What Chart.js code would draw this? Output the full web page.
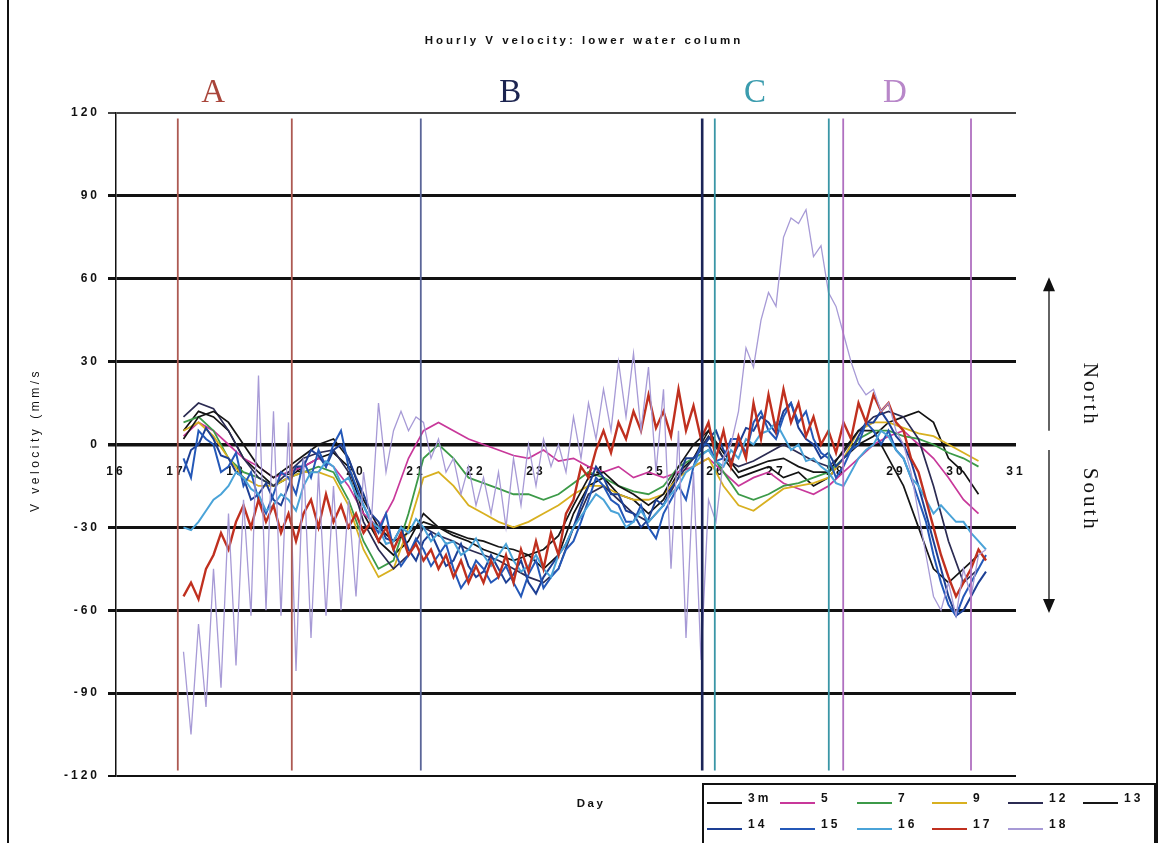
<!DOCTYPE html>
<html>
<head>
<meta charset="utf-8">
<title>Hourly V velocity: lower water column</title>
<script src="https://cdn.jsdelivr.net/npm/chart.js@4/dist/chart.umd.min.js"></script>
<style>
  html, body { margin: 0; padding: 0; background: #ffffff; }
  canvas { display: block; }
</style>
</head>
<body>
<canvas id="chart" width="1160" height="843"></canvas>
<script>
// ---- Text ----
const TITLE = 'Hourly V velocity: lower water column';
const Y_TITLE = 'V velocity (mm/s';
const X_TITLE = 'Day';

// ---- Axes ----
const DAY_MIN = 16, DAY_MAX = 31, DAY_STEP = 1;
const VEL_MIN = -120, VEL_MAX = 120, VEL_STEP = 30;

// ---- Sampling grids (days) ----
const START_DAY = 17.125;
const STEP_6H = 0.25;
const STEP_3H = 0.125;

// ---- Depth series (mm/s) ----
const DEPTHS = ['3m', '5', '7', '9', '12', '13', '14', '15', '16', '17', '18'];
const COLORS = ['#121212', '#c8389a', '#3c9a48', '#d8b020', '#2b2b52', '#161616',
                '#1d3f94', '#2458b8', '#4aa3d8', '#c0301f', '#a79ad6'];

// 6-hourly
const v3m = [5,12,10,5,-5,-10,-15,-12,-8,-5,-3,-8,-25,-35,-40,-35,-25,-30,-33,-35,-38,-40,-42,-40,-45,-40,-25,-15,-12,-18,-20,-25,-20,-10,-5,5,-5,-12,-10,-8,-12,-10,-15,-12,-5,0,3,8,10,12,8,-5,-10,-18];
const v5  = [3,8,5,0,-5,-8,-12,-10,-8,-5,-8,-15,-25,-30,-20,-5,5,8,5,2,0,-2,-4,-5,-2,-6,-5,-8,-10,-8,-12,-10,-12,-10,-8,-5,-10,-15,-12,-10,-14,-16,-18,-15,-10,-5,0,3,5,0,-5,-12,-20,-25];
const v7  = [8,10,5,-5,-10,-12,-15,-12,-10,-8,-10,-20,-35,-45,-42,-25,-5,0,-5,-12,-14,-16,-18,-18,-20,-18,-14,-10,-12,-15,-17,-18,-15,-8,-5,-2,-10,-18,-20,-18,-15,-14,-12,-10,-5,2,5,5,3,2,0,-3,-5,-8];
const v9  = [5,8,3,-5,-12,-15,-15,-12,-10,-10,-12,-22,-38,-48,-45,-30,-12,-10,-15,-22,-25,-28,-30,-28,-25,-22,-18,-15,-15,-18,-20,-20,-18,-12,-8,-5,-15,-22,-24,-20,-16,-15,-14,-12,-5,5,8,8,6,4,3,0,-3,-6];
const v12 = [10,15,13,5,-5,-12,-15,-10,-5,-3,-2,-10,-28,-38,-45,-40,-30,-33,-35,-38,-40,-42,-45,-48,-50,-45,-30,-18,-15,-20,-25,-28,-22,-12,-5,3,-5,-8,-6,-3,0,-3,-6,-8,-3,5,10,12,10,2,-15,-35,-50,-45];
const v13 = [2,10,12,8,0,-8,-12,-8,-4,0,2,-5,-20,-30,-35,-32,-28,-30,-32,-34,-35,-37,-38,-40,-38,-33,-22,-12,-10,-15,-18,-22,-18,-8,0,5,-3,-10,-8,-6,-5,-8,-10,-10,-2,5,5,-5,-15,-30,-45,-50,-45,-40];

// 3-hourly
const v14 = [-10,-2,0,6,2,-4,-5,-10,-12,-20,
             -18,-14,-20,-22,-15,-8,-8,-2,-4,-8,
             -2,0,-5,-12,-18,-25,-28,-34,-35,-30,
             -38,-42,-35,-32,-38,-44,-42,-36,-44,-48,
             -46,-40,-45,-50,-47,-42,-50,-54,-48,-44,
             -40,-36,-30,-22,-15,-8,-12,-18,-18,-24,
             -25,-30,-27,-20,-22,-16,-12,-5,-5,-2,
             2,5,-2,-6,0,6,5,10,8,4,
             12,15,6,2,0,-5,-3,-8,-5,-2,
             3,8,8,12,8,3,0,-6,-15,-25,
             -35,-45,-55,-62,-60,-55,-50,-46];
const v15 = [-5,-12,5,2,0,-10,-8,-3,-15,-10,
             -20,-25,-18,-10,-12,-18,-6,-12,-2,-8,
             0,5,-8,-15,-22,-28,-32,-25,-38,-44,
             -40,-34,-38,-44,-40,-36,-45,-52,-48,-42,
             -45,-50,-48,-44,-50,-55,-47,-42,-52,-48,
             -45,-38,-35,-28,-20,-12,-15,-20,-22,-28,
             -28,-22,-30,-34,-25,-20,-15,-20,-8,0,
             0,-6,-5,2,2,-3,8,12,5,2,
             10,15,8,12,2,-3,-5,-12,-8,-2,
             0,8,5,0,5,-2,-5,-12,-20,-28,
             -40,-50,-58,-62,-55,-50,-45,-40];
const v16 = [-30,-31,-28,-24,-20,-18,-15,-10,-12,-16,
             -18,-24,-22,-18,-20,-24,-15,-10,-10,-6,
             -8,-14,-12,-18,-22,-28,-30,-36,-35,-30,
             -32,-27,-30,-35,-32,-36,-35,-40,-38,-34,
             -40,-44,-40,-36,-42,-46,-44,-40,-45,-48,
             -40,-36,-30,-26,-22,-18,-20,-24,-25,-30,
             -28,-24,-28,-25,-22,-18,-15,-10,-8,-4,
             -2,-6,-8,-2,-5,2,0,4,5,8,
             3,-2,0,-6,-5,-8,-10,-14,-15,-10,
             -5,-2,0,5,3,-2,-5,-12,-15,-20,
             -25,-22,-25,-28,-28,-32,-35,-38];
const v17 = [-55,-50,-56,-45,-40,-32,-38,-28,-22,-30,
             -20,-28,-22,-32,-25,-35,-25,-20,-30,-18,
             -28,-22,-30,-25,-32,-28,-35,-30,-38,-32,
             -40,-36,-42,-38,-45,-40,-48,-42,-50,-44,
             -50,-42,-48,-40,-50,-38,-46,-35,-45,-32,
             -40,-25,-20,-8,-12,-2,5,-3,8,2,
             12,5,18,6,12,3,20,5,14,2,
             8,-5,5,-8,3,-5,15,2,18,5,
             20,8,15,3,10,0,5,-3,8,2,
             15,8,18,12,15,8,5,-5,-10,-20,
             -30,-40,-48,-55,-50,-45,-38,-42];
const v18 = [-75,-105,-65,-95,-45,-88,-25,-80,-20,-62,
             25,-60,12,-62,8,-82,-5,-70,-10,-62,
             -15,-60,-20,-55,-10,-30,15,-10,5,12,
             5,10,8,-5,2,-10,-5,-18,-8,-22,
             -12,-25,-10,-30,-5,-22,0,-15,2,-8,
             0,-10,10,-5,15,2,20,5,30,10,
             33,5,28,-10,20,-45,5,-70,-10,-78,
             -20,-28,-5,0,12,35,28,45,55,50,
             75,82,80,85,68,72,55,50,40,30,
             22,18,20,12,15,5,0,-10,-25,-40,
             -55,-60,-50,-62,-45,-55,-40,-38];

const SERIES = [v3m, v5, v7, v9, v12, v13, v14, v15, v16, v17, v18];
const SERIES_STEP = [STEP_6H, STEP_6H, STEP_6H, STEP_6H, STEP_6H, STEP_6H,
                     STEP_3H, STEP_3H, STEP_3H, STEP_3H, STEP_3H];
const SERIES_WIDTH = [1.7, 1.7, 1.8, 1.8, 1.7, 1.7, 2, 2, 2, 2.4, 1.3];

// ---- Periods A-D (day boundaries) ----
const PERIOD_NAMES = ['A', 'B', 'C', 'D'];
const PERIOD_STARTS = [17.03, 21.08, 25.98, 28.12];
const PERIOD_ENDS = [18.93, 25.77, 27.88, 30.25];
const PERIOD_LABEL_DAYS = [17.62, 22.57, 26.65, 28.98];
const PERIOD_START_COLORS = ['#ad5a52', '#5a6598', '#3a96a6', '#b070c0'];
const PERIOD_END_COLORS = ['#ad5a52', '#1c2458', '#3a96a6', '#b070c0'];
const PERIOD_LABEL_COLORS = ['#a9453a', '#1c2450', '#3b9cae', '#b887c9'];
const PERIOD_LINE_EXTENT = 118;

// ---- Build datasets ----
const datasets = SERIES.map((vals, k) => ({
  label: DEPTHS[k],
  data: vals.map((v, i) => ({ x: START_DAY + i * SERIES_STEP[k], y: v })),
  borderColor: COLORS[k],
  borderWidth: SERIES_WIDTH[k],
  pointRadius: 0,
  fill: false,
  tension: 0,
  order: 20 - k
}));

PERIOD_NAMES.forEach((name, k) => {
  [[PERIOD_STARTS[k], PERIOD_START_COLORS[k]], [PERIOD_ENDS[k], PERIOD_END_COLORS[k]]].forEach(([d, c], e) => {
    datasets.push({
      label: '',
      data: [{ x: d, y: -PERIOD_LINE_EXTENT }, { x: d, y: PERIOD_LINE_EXTENT }],
      borderColor: c,
      borderWidth: (k === 1 && e === 1) ? 2.6 : 1.8,
      pointRadius: 0,
      fill: false,
      order: -1
    });
  });
});

// ---- Text and decorations drawn around the plot ----
const TICK_SPACING = '3px';
const decorations = {
  id: 'decorations',
  beforeDraw(chart) {
    chart.ctx.letterSpacing = TICK_SPACING;
  },
  afterDraw(chart) {
    const { ctx, scales: { x, y } } = chart;
    ctx.save();
    ctx.fillStyle = '#111';
    ctx.strokeStyle = '#111';

    // title
    ctx.letterSpacing = '3px';
    ctx.font = 'bold 11.5px "Liberation Sans", Arial, sans-serif';
    ctx.textAlign = 'center';
    ctx.textBaseline = 'middle';
    ctx.fillText(TITLE, 584, 41);

    // x title
    ctx.letterSpacing = '2.5px';
    ctx.fillText(X_TITLE, 591, 804);

    // y title
    ctx.save();
    ctx.translate(36, 440);
    ctx.rotate(-Math.PI / 2);
    ctx.letterSpacing = '3.5px';
    ctx.font = '12px "Liberation Sans", Arial, sans-serif';
    ctx.fillText(Y_TITLE, 0, 0);
    ctx.restore();

    // period letters
    ctx.letterSpacing = '0px';
    ctx.font = '33px "Liberation Serif", "DejaVu Serif", serif';
    PERIOD_NAMES.forEach((n, k) => {
      ctx.fillStyle = PERIOD_LABEL_COLORS[k];
      ctx.fillText(n, x.getPixelForValue(PERIOD_LABEL_DAYS[k]), 93);
    });

    // North / South arrow
    ctx.fillStyle = '#111';
    ctx.lineWidth = 1.3;
    const ax = 1049;
    const yN = y.getPixelForValue(60.5), yN2 = y.getPixelForValue(5);
    const yS = y.getPixelForValue(-2), yS2 = y.getPixelForValue(-61);
    ctx.beginPath();
    ctx.moveTo(ax, yN + 10); ctx.lineTo(ax, yN2);
    ctx.moveTo(ax, yS); ctx.lineTo(ax, yS2 - 10);
    ctx.stroke();
    ctx.beginPath();
    ctx.moveTo(ax, yN); ctx.lineTo(ax - 6, yN + 14); ctx.lineTo(ax + 6, yN + 14); ctx.closePath();
    ctx.moveTo(ax, yS2); ctx.lineTo(ax - 6, yS2 - 14); ctx.lineTo(ax + 6, yS2 - 14); ctx.closePath();
    ctx.fill();

    ctx.font = '21px "Liberation Serif", "DejaVu Serif", serif';
    ctx.letterSpacing = '3px';
    [['North', 18], ['South', -20]].forEach(([t, v]) => {
      ctx.save();
      ctx.translate(1090, y.getPixelForValue(v));
      ctx.rotate(Math.PI / 2);
      ctx.fillText(t, 0, 0);
      ctx.restore();
    });

    // outer frame sides
    ctx.lineWidth = 2;
    ctx.beginPath();
    ctx.moveTo(8, 0); ctx.lineTo(8, 843);
    ctx.moveTo(1157, 0); ctx.lineTo(1157, 843);
    ctx.stroke();

    // legend box
    ctx.lineWidth = 2;
    ctx.strokeRect(703, 784, 452, 70);
    const cols = [707, 780, 857, 932, 1008, 1083];
    const rows = [801, 827];
    ctx.font = 'bold 12px "Liberation Sans", Arial, sans-serif';
    ctx.letterSpacing = '3px';
    ctx.textAlign = 'left';
    DEPTHS.forEach((lab, k) => {
      const r = k < 6 ? 0 : 1;
      const cx = cols[r === 0 ? k : k - 6];
      const ry = rows[r];
      ctx.strokeStyle = COLORS[k];
      ctx.lineWidth = 1.8;
      ctx.beginPath();
      ctx.moveTo(cx, ry + 2); ctx.lineTo(cx + 35, ry + 2);
      ctx.stroke();
      ctx.fillStyle = '#111';
      ctx.fillText(lab, cx + 41, ry - 2);
    });

    ctx.restore();
    ctx.letterSpacing = '0px';
  }
};

const tickFont = { family: '"Liberation Sans", Arial, sans-serif', size: 12, weight: 'bold' };

new Chart(document.getElementById('chart'), {
  type: 'line',
  data: { datasets },
  options: {
    responsive: false,
    animation: false,
    devicePixelRatio: 1,
    layout: { padding: { left: 0, top: 113, right: 144, bottom: 67 } },
    plugins: {
      legend: { display: false },
      tooltip: { enabled: false },
      title: { display: false }
    },
    scales: {
      x: {
        type: 'linear',
        min: DAY_MIN,
        max: DAY_MAX,
        position: { y: 0 },
        grid: { display: false },
        border: { display: false },
        ticks: {
          stepSize: DAY_STEP,
          autoSkip: false,
          maxRotation: 0,
          padding: 12,
          color: '#111',
          font: tickFont
        }
      },
      y: {
        min: VEL_MIN,
        max: VEL_MAX,
        afterFit(scale) { scale.width = 116; },
        border: { display: true, color: '#111', width: 1.5 },
        grid: {
          drawTicks: true,
          tickLength: 8,
          color: ctx => (ctx.tick && ctx.tick.value === VEL_MAX) ? '#444' : '#111',
          lineWidth: ctx => {
            const v = ctx.tick ? ctx.tick.value : 0;
            if (v === 0) return 3.5;
            if (Math.abs(v) === 120) return 2;
            return 3;
          }
        },
        ticks: {
          stepSize: VEL_STEP,
          padding: 8,
          color: '#111',
          font: tickFont
        }
      }
    }
  },
  plugins: [decorations]
});
</script>
</body>
</html>
